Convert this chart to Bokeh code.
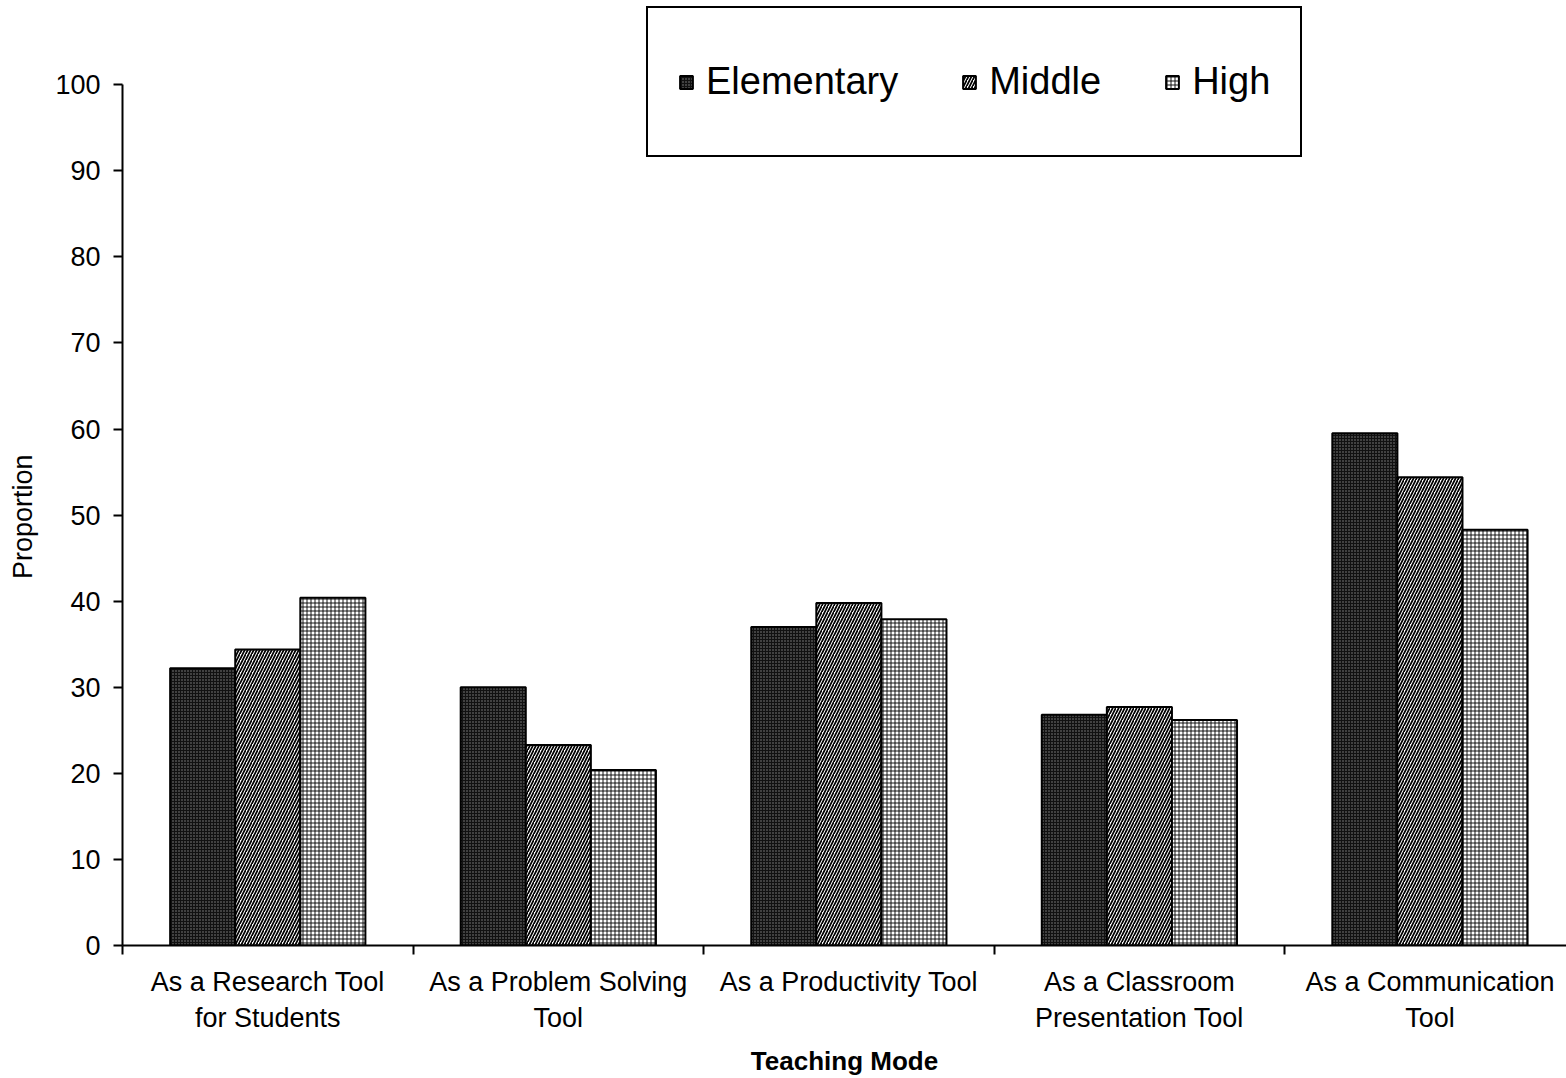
import numpy as np
from bokeh.plotting import figure
from bokeh.models import (ColumnDataSource, FixedTicker, Legend, LegendItem, Range1d)
from bokeh.embed import file_html
from bokeh.resources import INLINE

# Teaching-mode categories and the share of teachers (per school level)
categories = [
    "As a Research Tool\nfor Students",
    "As a Problem Solving\nTool",
    "As a Productivity Tool",
    "As a Classroom\nPresentation Tool",
    "As a Communication\nTool",
]
elementary = [32.2, 30.0, 37.0, 26.8, 59.5]
middle = [34.4, 23.3, 39.8, 27.7, 54.4]
high = [40.4, 20.4, 37.9, 26.2, 48.3]
series_names = ["Elementary", "Middle", "High"]
y_ticks = list(range(0, 101, 10))

FONT = "Liberation Sans"

n = len(categories)
centers = np.arange(n) + 0.5
bar_w = 0.224

# the frame reaches to the top of the page so the legend box fits inside it;
# the value axis itself is drawn only from 0 to 100
p = figure(width=1566, height=1078, output_backend="svg", toolbar_location=None,
           x_range=Range1d(0, 4.97), y_range=Range1d(0, 109.2),
           min_border_left=122, min_border_right=0, min_border_top=5,
           min_border_bottom=133)
p.outline_line_color = None
p.grid.grid_line_color = None
p.background_fill_color = "white"
p.border_fill_color = "white"

styles = [
    dict(fill_color="#111111", hatch_pattern=".", hatch_color="#8a8a8a",
         hatch_scale=3, hatch_weight=1.2),
    dict(fill_color="white", hatch_pattern="/", hatch_color="black",
         hatch_scale=6, hatch_weight=1.7),
    dict(fill_color="white", hatch_pattern="+", hatch_color="black",
         hatch_scale=4, hatch_weight=0.9),
]

renderers = []
for i, (name, vals) in enumerate(zip(series_names, [elementary, middle, high])):
    src = ColumnDataSource(dict(x=centers + (i - 1) * bar_w, top=vals))
    r = p.vbar(x="x", top="top", bottom=0, width=bar_w, source=src,
               line_color="black", line_width=2, **styles[i])
    renderers.append((name, r))

# x axis: boundary ticks between categories, labels at the centres
xa = p.xaxis[0]
xa.ticker = FixedTicker(ticks=list(centers), minor_ticks=list(range(n + 1)))
xa.major_label_overrides = {float(c): lab for c, lab in zip(centers, categories)}
xa.major_tick_line_color = None
xa.minor_tick_line_color = "black"
xa.minor_tick_line_width = 2
xa.minor_tick_out = 9
xa.minor_tick_in = 0
xa.axis_line_color = "black"
xa.axis_line_width = 2
xa.major_label_text_font = FONT
xa.major_label_text_font_size = "27px"
xa.major_label_text_color = "black"
xa.major_label_standoff = 12
xa.axis_label = "Teaching Mode"
xa.axis_label_text_font = FONT
xa.axis_label_text_font_style = "bold"
xa.axis_label_text_font_size = "26px"
xa.axis_label_text_color = "black"
xa.axis_label_standoff = 10

ya = p.yaxis[0]
ya.ticker = FixedTicker(ticks=y_ticks, minor_ticks=[])
ya.bounds = (0, 100)
ya.axis_line_color = "black"
ya.axis_line_width = 2
ya.major_tick_line_color = "black"
ya.major_tick_line_width = 2
ya.major_tick_out = 9
ya.major_tick_in = 0
ya.major_label_text_font = FONT
ya.major_label_text_font_size = "27px"
ya.major_label_text_color = "black"
ya.major_label_standoff = 13
# trailing no-break spaces centre the title on the 0-100 span of the axis
ya.axis_label = "Proportion" + "\u00a0" * 11
ya.axis_label_text_font = FONT
ya.axis_label_text_font_style = "normal"
ya.axis_label_text_font_size = "27px"
ya.axis_label_text_color = "black"
ya.axis_label_standoff = 14

legend = Legend(
    items=[LegendItem(label=nm, renderers=[r]) for nm, r in renderers],
    orientation="horizontal",
    location=(524, 788),
    label_text_font=FONT,
    label_text_font_size="38px",
    label_text_color="black",
    label_height=87,
    glyph_width=16,
    glyph_height=16,
    label_standoff=12,
    spacing=63,
    padding=30,
    margin=0,
    border_line_color="black",
    border_line_width=2,
    border_line_alpha=1.0,
    background_fill_color="white",
    background_fill_alpha=1.0,
)
p.add_layout(legend)

open("out.html", "w").write(file_html(p, INLINE))
